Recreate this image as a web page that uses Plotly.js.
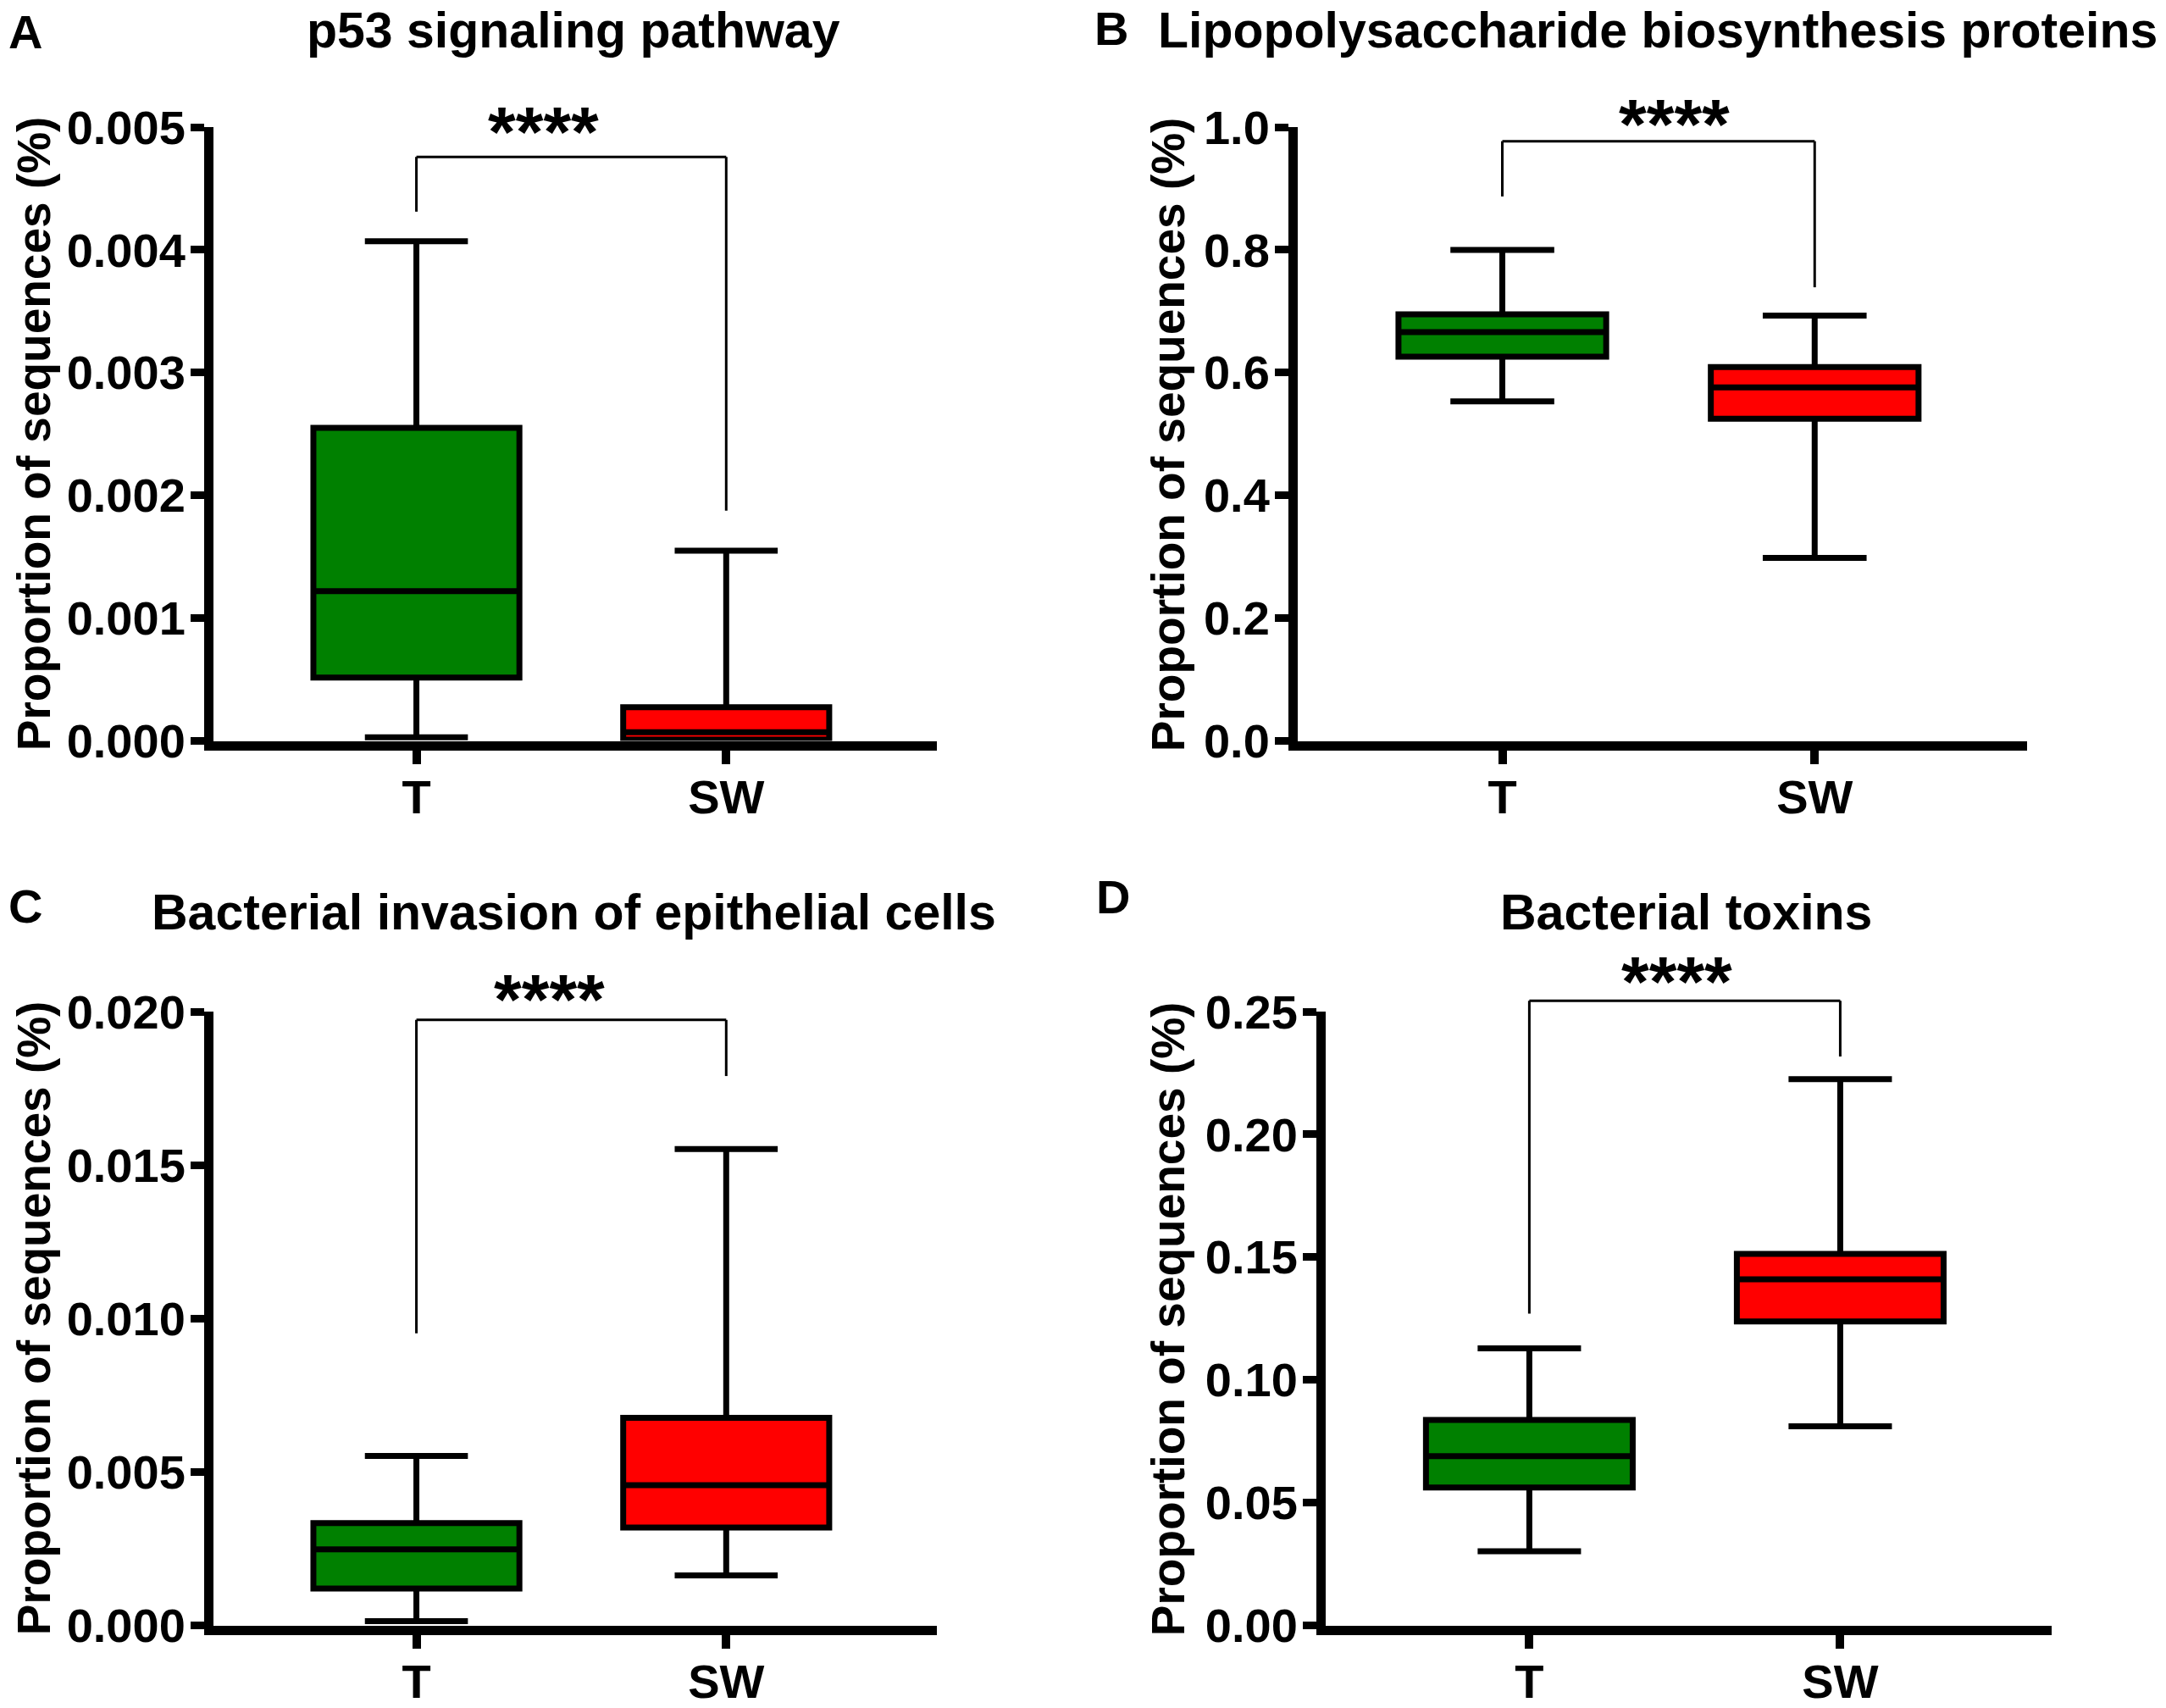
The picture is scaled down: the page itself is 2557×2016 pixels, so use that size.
<!DOCTYPE html>
<html>
<head>
<meta charset="utf-8">
<script src="https://cdn.plot.ly/plotly-3.0.1.min.js"></script>
<style>
html,body{margin:0;padding:0;background:#ffffff;}
#chart{width:2557px;height:2016px;}
</style>
</head>
<body>
<div id="chart"></div>
<script>
// ---------------- DATA ----------------
const categories = ['T', 'SW'];
const groupColors = ['rgb(0,128,0)', 'rgb(255,0,0)'];
const panelLetters = ['A', 'B', 'C', 'D'];
const panelTitles = [
  'p53 signaling pathway',
  'Lipopolysaccharide biosynthesis proteins',
  'Bacterial invasion of epithelial cells',
  'Bacterial toxins'
];
const yAxisTitle = 'Proportion of sequences (%)';
const significanceLabel = '****';

// five-number summaries: [lower whisker, Q1, median, Q3, upper whisker]
const p53_T  = [0.00003, 0.000516, 0.00122, 0.00255, 0.00407];
const p53_SW = [0.0,     0.00001,  0.00007, 0.000275, 0.00155];
const lps_T  = [0.553, 0.626, 0.666, 0.695, 0.800];
const lps_SW = [0.298, 0.525, 0.576, 0.609, 0.693];
const inv_T  = [0.00014, 0.00120, 0.00248, 0.00333, 0.00552];
const inv_SW = [0.00163, 0.00319, 0.00457, 0.00676, 0.01552];
const tox_T  = [0.0302, 0.0562, 0.0689, 0.0837, 0.1128];
const tox_SW = [0.0811, 0.1238, 0.1410, 0.1513, 0.2225];

// significance brackets: top bar height, T leg end, SW leg end
const bracketTop   = [0.004757, 0.977, 0.01973, 0.2544];
const bracketLegT  = [0.004311, 0.887, 0.00952, 0.127];
const bracketLegSW = [0.001876, 0.739, 0.0179, 0.2317];

// y axes
const yRanges = [[0, 0.005], [0, 1.0], [0, 0.020], [0, 0.25]];
const yDticks = [0.001, 0.2, 0.005, 0.05];
const yFormats = ['.3f', '.1f', '.3f', '.2f'];

// ---------------- LAYOUT ----------------
const W = 2557, H = 2016;
const FONT = 'Liberation Sans, Arial, Helvetica, sans-serif';
const xRange = [-0.655, 1.68];
const panelData = [[p53_T, p53_SW], [lps_T, lps_SW], [inv_T, inv_SW], [tox_T, tox_SW]];

const panels = [
  {xd: [252, 1106],  yd: [150, 874.5],   titleX: 677,  titleY: 36,   letterX: 8,    letterY: 37,   ytX: 40,   starX: 0.41,  starY: 0.00503},
  {xd: [1532, 2393], yd: [150, 874.5],   titleX: 1957, titleY: 36,   letterX: 1290, letterY: 33,   ytX: 1379, starX: 0.55,  starY: 1.018},
  {xd: [252, 1106],  yd: [1194, 1918.5], titleX: 677,  titleY: 1077, letterX: 8,    letterY: 1069, ytX: 40,   starX: 0.43,  starY: 0.02066},
  {xd: [1565, 2422], yd: [1194, 1918.5], titleX: 1990, titleY: 1077, letterX: 1292, letterY: 1058, ytX: 1379, starX: 0.475, starY: 0.2655}
];

const traces = [];
const layout = {
  width: W, height: H,
  margin: {l: 0, r: 0, t: 0, b: 0},
  paper_bgcolor: '#ffffff',
  plot_bgcolor: 'rgba(0,0,0,0)',
  showlegend: false,
  boxmode: 'overlay',
  font: {family: FONT, color: '#000000'},
  shapes: [],
  annotations: []
};

panels.forEach((p, i) => {
  const n = i === 0 ? '' : String(i + 1);
  const xa = 'x' + n, ya = 'y' + n;
  const yr = yRanges[i];

  categories.forEach((cat, g) => {
    const s = panelData[i][g];
    traces.push({
      type: 'box',
      x: [cat],
      lowerfence: [s[0]], q1: [s[1]], median: [s[2]], q3: [s[3]], upperfence: [s[4]],
      width: 0.665,
      whiskerwidth: 0.5,
      fillcolor: groupColors[g],
      line: {color: '#000000', width: 7},
      boxpoints: false,
      hoverinfo: 'skip',
      xaxis: xa, yaxis: ya,
      showlegend: false
    });
  });

  layout['xaxis' + n] = {
    domain: [p.xd[0] / W, p.xd[1] / W],
    anchor: ya,
    type: 'category',
    categoryorder: 'array', categoryarray: categories,
    range: xRange,
    showline: true, linewidth: 11, linecolor: '#000000',
    ticks: 'outside', ticklen: 16, tickwidth: 10, tickcolor: '#000000',
    ticklabelstandoff: -9,
    showgrid: false, zeroline: false,
    tickfont: {family: FONT, size: 56, color: '#000000', weight: 'bold'},
    fixedrange: true
  };
  layout['yaxis' + n] = {
    domain: [1 - p.yd[1] / H, 1 - p.yd[0] / H],
    anchor: xa,
    range: yr,
    tick0: 0, dtick: yDticks[i], tickformat: yFormats[i],
    showline: true, linewidth: 11, linecolor: '#000000',
    ticks: 'outside', ticklen: 16, tickwidth: 9, tickcolor: '#000000',
    ticklabelstandoff: -5,
    showgrid: false, zeroline: false,
    tickfont: {family: FONT, size: 56, color: '#000000', weight: 'bold'},
    fixedrange: true
  };

  // conversions from data values to domain fractions / paper fractions
  const xf = v => (v - xRange[0]) / (xRange[1] - xRange[0]);
  const yf = v => (v - yr[0]) / (yr[1] - yr[0]);
  const toPaperX = v => (p.xd[0] + xf(v) * (p.xd[1] - p.xd[0])) / W;
  const toPaperY = v => 1 - (p.yd[1] - yf(v) * (p.yd[1] - p.yd[0])) / H;

  // bracket
  const xT = xf(0), xS = xf(1);
  const lineStyle = {color: '#000000', width: 3};
  const dref = {xref: xa + ' domain', yref: ya + ' domain', line: lineStyle, layer: 'above'};
  layout.shapes.push(Object.assign({type: 'line', x0: xT, x1: xT, y0: yf(bracketLegT[i]), y1: yf(bracketTop[i])}, dref));
  layout.shapes.push(Object.assign({type: 'line', x0: xT, x1: xS, y0: yf(bracketTop[i]), y1: yf(bracketTop[i])}, dref));
  layout.shapes.push(Object.assign({type: 'line', x0: xS, x1: xS, y0: yf(bracketLegSW[i]), y1: yf(bracketTop[i])}, dref));

  // stars
  layout.annotations.push({
    xref: 'paper', yref: 'paper', x: toPaperX(p.starX), y: toPaperY(p.starY),
    text: significanceLabel, showarrow: false,
    xanchor: 'center', yanchor: 'middle', yshift: -10,
    font: {family: FONT, size: 84, color: '#000000', weight: 'bold'}
  });

  // panel title
  layout.annotations.push({
    xref: 'paper', yref: 'paper',
    x: p.titleX / W, y: 1 - p.titleY / H,
    text: panelTitles[i], showarrow: false,
    xanchor: 'center', yanchor: 'middle',
    font: {family: FONT, size: 59, color: '#000000', weight: 'bold'}
  });

  // panel letter
  layout.annotations.push({
    xref: 'paper', yref: 'paper',
    x: p.letterX / W, y: 1 - p.letterY / H,
    text: panelLetters[i], showarrow: false,
    xanchor: 'left', yanchor: 'middle',
    font: {family: FONT, size: 56, color: '#000000', weight: 'bold'}
  });

  // y-axis title
  layout.annotations.push({
    xref: 'paper', yref: 'paper',
    x: p.ytX / W, y: 1 - ((p.yd[0] + p.yd[1]) / 2) / H,
    text: yAxisTitle, showarrow: false, textangle: -90,
    xanchor: 'center', yanchor: 'middle',
    font: {family: FONT, size: 55, color: '#000000', weight: 'bold'}
  });
});

Plotly.newPlot('chart', traces, layout, {staticPlot: true, displayModeBar: false});
</script>
</body>
</html>
